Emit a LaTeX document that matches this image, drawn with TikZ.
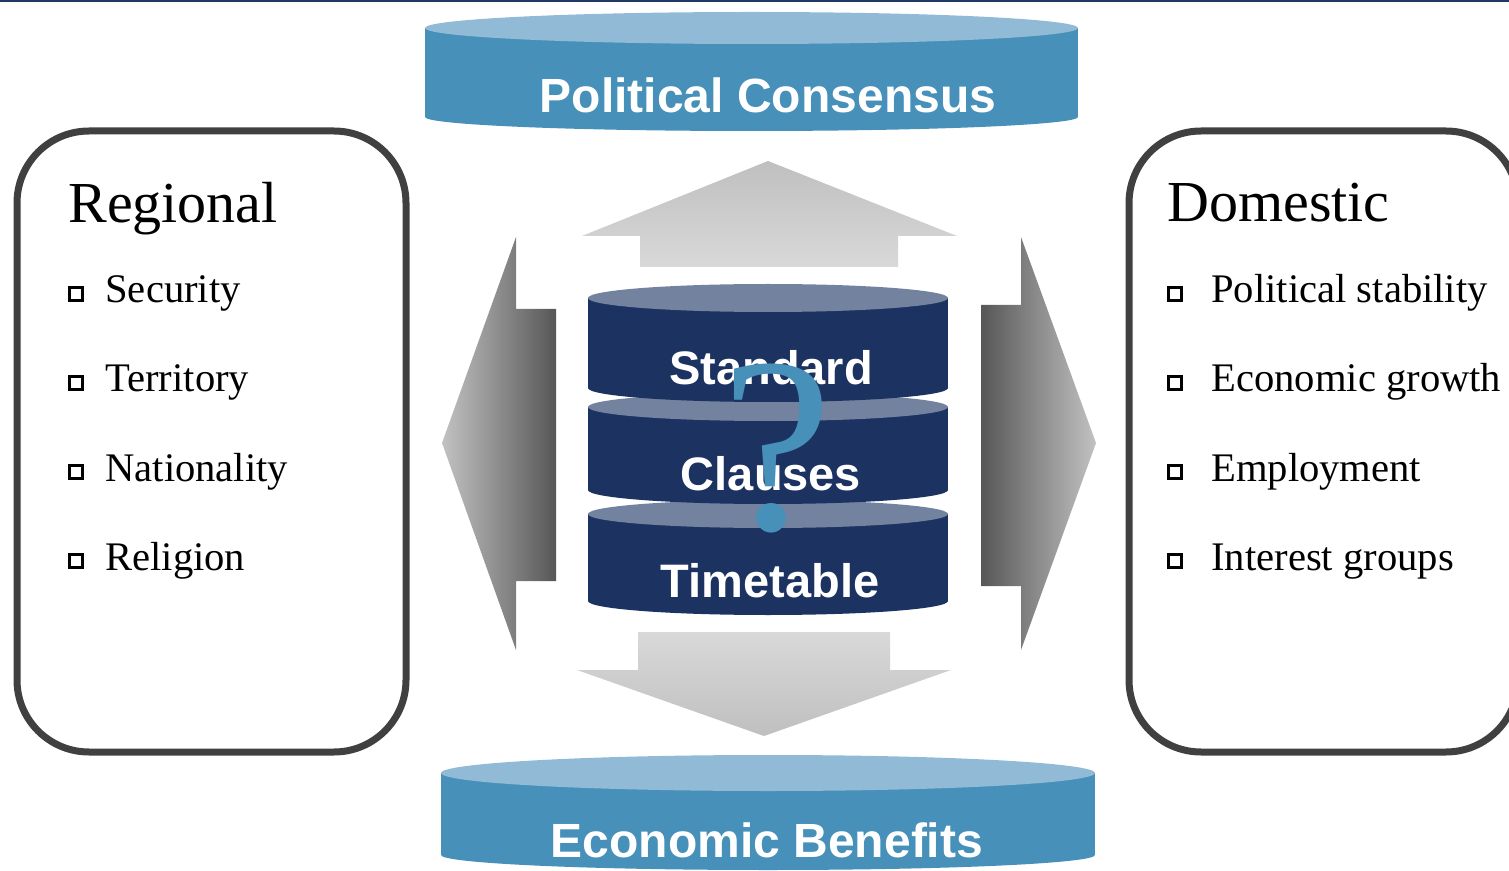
\documentclass[tikz,border=0pt]{standalone}
\usepackage{fontspec}
\setmainfont{Liberation Serif}
\newfontfamily\cylfont{Liberation Sans}
\usetikzlibrary{positioning}

\definecolor{navyline}{HTML}{1F3864}
\definecolor{capblue}{HTML}{4690BA}
\definecolor{capface}{HTML}{90BAD5}
\definecolor{stacknavy}{HTML}{1C3260}
\definecolor{stackface}{HTML}{73829F}
\definecolor{panelgray}{HTML}{404040}

\begin{document}
\begin{tikzpicture}[
    x=0.5pt, y=-0.5pt,
    panel/.style={draw=panelgray, line width=3.5pt, rounded corners=36pt,
        minimum width=194.5pt, minimum height=310.5pt, inner sep=0pt},
    headtext/.style={anchor=base west, inner sep=0pt, font=\fontsize{29}{34}\selectfont},
    itemtext/.style={anchor=base west, inner sep=0pt, font=\fontsize{20.3}{24}\selectfont},
    bulletbox/.style={draw=black, line width=1.5pt, inner sep=0pt, minimum size=6.3pt},
    captext/.style={anchor=base, text=white, font=\cylfont\bfseries\fontsize{24}{28}\selectfont},
    stacktext/.style={anchor=base, text=white, font=\cylfont\bfseries\fontsize{23.5}{28}\selectfont},
    qmark/.style={anchor=base, text=capblue, font=\fontsize{125}{130}\selectfont}
]
\useasboundingbox (0,0) rectangle (1509,871);

% -- top rule --
\fill[navyline] (0,0) rectangle (1509,2.5);

% -- side panels --
\node[panel] (regBox) at (211.5,441.5) {};
\node[panel] (domBox) at (1323.5,441.5) {};

\node[headtext] (regHead) at (68,223) {Regional};
\node[headtext] (domHead) at (1167,222) {Domestic};

\foreach \txt/\nm [count=\i] in {Security/Sec, Territory/Ter, Nationality/Nat, Religion/Rel} {
  \node[itemtext] (reg\nm) at (105,{303+89*(\i-1)}) {\txt};
  \node[bulletbox] (reg\nm Bul) at (76,{294+89*(\i-1)}) {};
}
\foreach \txt/\nm [count=\i] in {Political stability/Pol, Economic growth/Eco, Employment/Emp, Interest groups/Int} {
  \node[itemtext] (dom\nm) at (1211,{303+89*(\i-1)}) {\txt};
  \node[bulletbox] (dom\nm Bul) at (1175,{294+89*(\i-1)}) {};
}

% -- block arrows --
\shade[top color=black!25, bottom color=black!15]
  (768,161) -- (957,236) -- (898,236) -- (898,267) -- (640,267) -- (640,236) -- (582,236) -- cycle;
\shade[top color=black!15, bottom color=black!25]
  (638,632) -- (890,632) -- (890,670) -- (951,670) -- (764,736) -- (577,670) -- (638,670) -- cycle;
\shade[left color=black!24, right color=black!66]
  (442,443) -- (516,237) -- (516,309) -- (556,309) -- (556,581) -- (516,581) -- (516,650) -- cycle;
\shade[left color=black!66, right color=black!24]
  (981,305) -- (1021,305) -- (1021,237) -- (1096,443) -- (1021,650) -- (1021,586) -- (981,586) -- cycle;

% -- top and bottom caps --
\fill[capblue] (751.5,117) ellipse[x radius=326.5, y radius=14];
\fill[capblue] (425,28) rectangle (1078,117);
\fill[capface] (751.5,28) ellipse[x radius=326.5, y radius=16];
\node[captext] (polCons) at (768,113) {Political Consensus};

\fill[capblue] (768,855) ellipse[x radius=327, y radius=15];
\fill[capblue] (441,773) rectangle (1095,855);
\fill[capface] (768,773) ellipse[x radius=327, y radius=18];
\node[captext] (ecoBen) at (767,857) {Economic Benefits};

% -- central stack --
\foreach \ct/\cb in {514/601, 407/490, 298/388} {
  \fill[stacknavy] (768,\cb) ellipse[x radius=180, y radius=14];
  \fill[stacknavy] (588,\ct) rectangle (948,\cb);
  \fill[stackface] (768,\ct) ellipse[x radius=180, y radius=14];
}
\node[stacktext] (stdText) at (771,385) {Standard};
\node[stacktext] (clsText) at (771,490) {Clauses};
\node[stacktext] (timText) at (770,597) {Timetable};

\node[qmark] (quest) at (777,529) {?};

\end{tikzpicture}
\end{document}
